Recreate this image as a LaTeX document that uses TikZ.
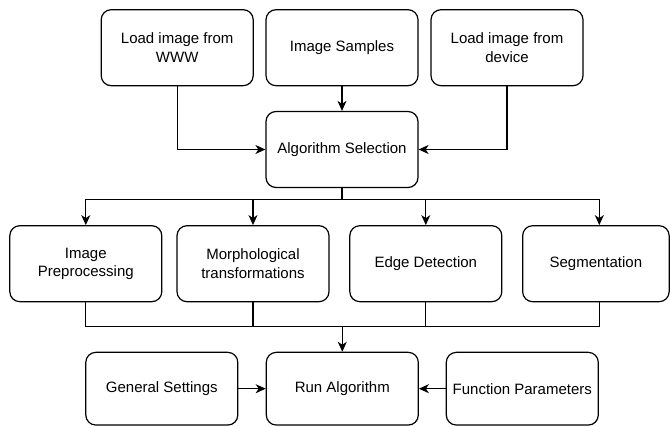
\documentclass[tikz,border=0pt]{standalone}
\usepackage{fontspec}
\setmainfont{Liberation Sans}
\usetikzlibrary{arrows.meta,positioning}
\tikzset{
  box/.style={draw=black, line width=1.2pt, rounded corners=10pt, fill=white,
    minimum width=152pt, minimum height=76pt, align=center, inner sep=2pt,
    font=\fontsize{15}{18.5}\selectfont},
  conn/.style={line width=1.1pt, draw=black},
  arr/.style={conn, -{Stealth[length=10pt,width=9pt,inset=3pt]}}
}
\begin{document}
\begin{tikzpicture}[x=1pt,y=-1pt]
\useasboundingbox (0,0) rectangle (670,427);
% top row
\node[box] (www) at (177.2,47.7) {Load image from\\WWW};
\node[box] (samples) at (342,47.7) {Image Samples};
\node[box] (device) at (507,47.7) {Load image from\\device};
\node[box] (algo) at (342,149.5) {Algorithm Selection};
% middle row
\node[box] (prep) at (85.8,263.7) {Image\\Preprocessing};
\node[box] (morph) at (253,263.7) {Morphological\\transformations};
\node[box] (edge) at (425.8,263.7) {Edge Detection};
\node[box, minimum width=146.5pt] (seg) at (595.9,263.7) {Segmentation};
% bottom row
\node[box, minimum height=72.7pt] (gen) at (161.8,388.7) {General Settings};
\node[box, minimum height=72.7pt] (run) at (342.3,388.7) {Run Algorithm};
\node[box, minimum height=72.7pt] (func) at (522.3,388.7) {Function Parameters};
% coordinates
\coordinate (split) at (342,199.5);
\coordinate (merge) at (342.3,326.7);
% connectors
\draw[arr] (www.south) |- (algo.west);
\draw[arr] (device.south) |- (algo.east);
\draw[arr] (samples.south) -- (algo.north);
\draw[conn] (algo.south) -- (split);
\draw[arr] (split) -| (prep.north);
\draw[arr] (split) -| (morph.north);
\draw[arr] (split) -| (edge.north);
\draw[arr] (split) -| ([xshift=3.4pt]seg.north);
\draw[conn] (prep.south) |- (merge);
\draw[conn] (morph.south) |- (merge);
\draw[conn] (edge.south) |- (merge);
\draw[conn] ([xshift=3.4pt]seg.south) |- (merge);
\draw[arr] (merge) -- (run.north);
\draw[arr] (gen.east) -- (run.west);
\draw[arr] (func.west) -- (run.east);
\end{tikzpicture}
\end{document}
